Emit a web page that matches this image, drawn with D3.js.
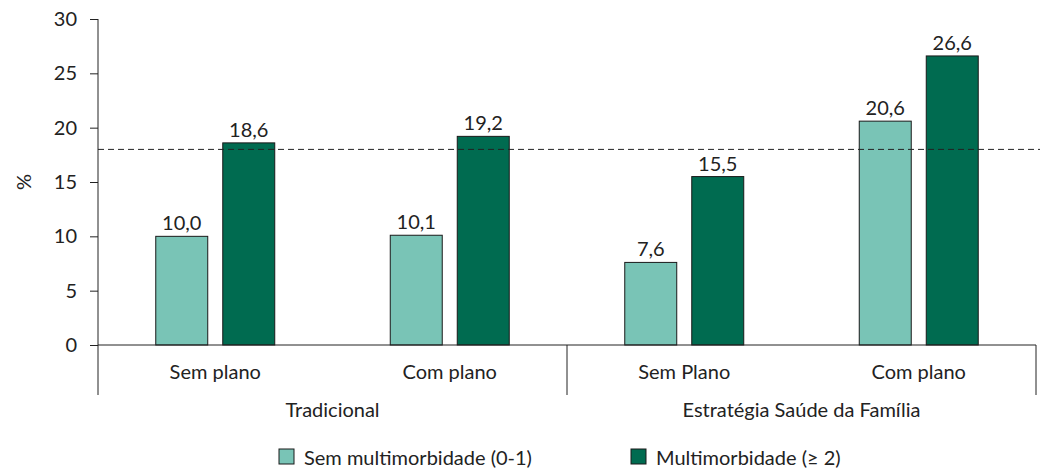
<!DOCTYPE html>
<html><head><meta charset="utf-8">
<script src="https://cdn.jsdelivr.net/npm/d3@7"></script>
<style>body{margin:0;background:#fff}svg{display:block}text{font-family:Lato,"Open Sans",sans-serif;fill:#222}</style>
</head><body><svg id="c" width="1046" height="470"></svg>
<script>
const categories = ["Sem plano","Com plano","Sem Plano","Com plano"];
const groups = ["Tradicional","Estratégia Saúde da Família"];
const series = ["Sem multimorbidade (0-1)","Multimorbidade (≥ 2)"];
const semMulti = [10.0, 10.1, 7.6, 20.6];
const multi = [18.6, 19.2, 15.5, 26.6];
const refLine = 18.0;
const yTicks = [0,5,10,15,20,25,30];
const colors = ["#79c4b6","#006b50"];

const FS = "20px";
const svg = d3.select("#c");
const L=98, R=1036, T=19, B=345;
const x = d3.scaleBand().domain(d3.range(categories.length)).range([L,R]);
const xs = d3.scaleBand().domain([0,1]).range([0,x.bandwidth()]).paddingInner(0.224).paddingOuter(0.862);
const y = d3.scaleLinear().domain([0,30]).range([B,T]);
const fmt = v => d3.format(".1f")(v).replace(".",",");

// y axis
const ya = svg.append("g").attr("transform",`translate(${L},0)`)
  .call(d3.axisLeft(y).tickValues(yTicks).tickSize(8).tickPadding(13));
ya.select(".domain").remove();
ya.selectAll(".tick line").attr("stroke","#222");
ya.selectAll("text").style("font-size",FS).attr("fill","#222").style("font-family","Lato,sans-serif");
svg.append("line").attr("x1",L).attr("x2",L).attr("y1",T).attr("y2",395).attr("stroke","#222");

svg.append("text").attr("transform",`translate(31,${y(15)}) rotate(-90)`).attr("text-anchor","middle")
  .style("font-size",FS).text("%");

// bars
const data = categories.map((c,i)=>[semMulti[i],multi[i]]);
data.forEach((vals,i)=>{
  vals.forEach((v,j)=>{
    const bx = x(i)+xs(j);
    svg.append("rect").attr("x",bx).attr("y",y(v)).attr("width",xs.bandwidth()).attr("height",y(0)-y(v))
      .attr("fill",colors[j]).attr("stroke","#1a1a1a").attr("stroke-width",1);
    svg.append("text").attr("x",bx+xs.bandwidth()/2).attr("y",y(v)-6).attr("text-anchor","middle")
      .style("font-size",FS).text(fmt(v));
  });
});

// baseline
svg.append("line").attr("x1",L).attr("x2",R).attr("y1",B).attr("y2",B).attr("stroke","#222");
// dashed ref line
svg.append("line").attr("x1",L).attr("x2",1040).attr("y1",y(refLine)).attr("y2",y(refLine))
  .attr("stroke","#222").attr("stroke-dasharray","6,4");

// separators
[x(2), R].forEach(px=>svg.append("line").attr("x1",px).attr("x2",px).attr("y1",B).attr("y2",395).attr("stroke","#222"));

// category labels
categories.forEach((c,i)=>svg.append("text").attr("x",x(i)+x.bandwidth()/2).attr("y",379).attr("text-anchor","middle")
  .style("font-size",FS).text(c));
groups.forEach((g,k)=>svg.append("text").attr("x",x(2*k)+x.bandwidth()).attr("y",417).attr("text-anchor","middle")
  .style("font-size",FS).text(g));

// legend
const legX=[279,631];
series.forEach((s,j)=>{
  svg.append("rect").attr("x",legX[j]).attr("y",449).attr("width",15).attr("height",15)
    .attr("fill",colors[j]).attr("stroke","#1a1a1a");
  svg.append("text").attr("x",legX[j]+25).attr("y",465).style("font-size",FS).text(s);
});
</script></body></html>
